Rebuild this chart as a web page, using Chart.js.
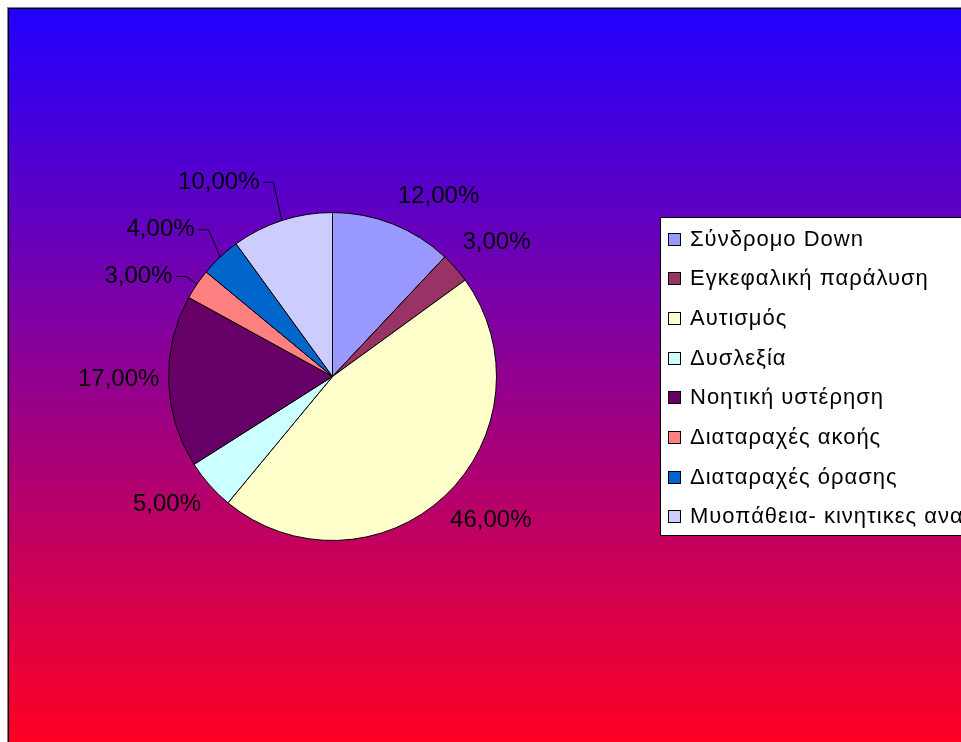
<!DOCTYPE html>
<html lang="el">
<head>
<meta charset="utf-8">
<title>Ειδικές μαθησιακές ανάγκες</title>
<style>
html, body { margin: 0; padding: 0; background: #fff; overflow: hidden; }
#pieChart { display: block; }
</style>
</head>
<body>
<canvas id="pieChart" width="961" height="742"></canvas>
<script src="https://cdn.jsdelivr.net/npm/chart.js@4.4.1/dist/chart.umd.min.js"></script>
<script>
// data
const categories = [
    'Σύνδρομο Down',
    'Εγκεφαλική παράλυση',
    'Αυτισμός',
    'Δυσλεξία',
    'Νοητική υστέρηση',
    'Διαταραχές ακοής',
    'Διαταραχές όρασης',
    'Μυοπάθεια- κινητικες αναπηρίες'
];
const percentValues = [12, 3, 46, 5, 17, 3, 4, 10];
const sliceColors = ['#9999FF', '#993366', '#FFFFCC', '#CCFFFF', '#660066', '#FF8080', '#0066CC', '#CCCCFF'];

// label tweaks: da = degrees clockwise, dr = px outward; leader = label pulled out with a line
const labelTweaks = [
    {da: 8.9, dr: 2},
    {da: 2.1, dr: 2},
    {da: -4.6, dr: -0.5},
    {da: 3.8, dr: -1.4},
    {da: 0.9, dr: -3},
    {da: 0.2, len: 13, leader: true},
    {da: 3.0, len: 28, leader: true},
    {da: 1.1, len: 39, leader: true}
];

const LABEL_FONT = '24px "Liberation Sans", Arial, sans-serif';
const LEGEND_FONT = '22px "Liberation Sans", Arial, sans-serif';

function formatPct(v){
    return v.toFixed(2).replace('.', ',') + '%';
}

const backgroundPlugin = {
    id: 'sheetBackground',
    beforeDraw(chart){
        const ctx = chart.ctx;
        const w = chart.width, h = chart.height;
        ctx.save();
        ctx.fillStyle = '#ffffff';
        ctx.fillRect(0, 0, w, h);
        const grad = ctx.createLinearGradient(0, 9, 0, h);
        grad.addColorStop(0, 'rgb(34, 0, 255)');
        grad.addColorStop(1, 'rgb(255, 0, 34)');
        ctx.fillStyle = grad;
        ctx.fillRect(9, 9, w, h);
        ctx.lineWidth = 1;
        ctx.strokeStyle = '#808080';
        ctx.strokeRect(7.5, 7.5, w + 10, h + 10);
        ctx.strokeStyle = '#000000';
        ctx.strokeRect(8.5, 8.5, w + 10, h + 10);
        ctx.restore();
    }
};

const pctLabelPlugin = {
    id: 'pctLabels',
    afterDatasetsDraw(chart){
        const ctx = chart.ctx;
        const meta = chart.getDatasetMeta(0);
        const values = chart.data.datasets[0].data;
        const gap = 12;
        ctx.save();
        ctx.font = LABEL_FONT;
        ctx.fillStyle = '#000';
        ctx.strokeStyle = '#000';
        ctx.lineWidth = 1;
        ctx.textBaseline = 'middle';
        meta.data.forEach((arc, i) => {
            const tw = labelTweaks[i] || {da: 0, dr: 0};
            const text = formatPct(values[i]);
            const r = arc.outerRadius;
            const mid = (arc.startAngle + arc.endAngle) / 2;
            const ang = mid + tw.da * Math.PI / 180;
            if (tw.leader){
                const px = arc.x + Math.cos(mid) * r;
                const py = arc.y + Math.sin(mid) * r;
                const ex = arc.x + Math.cos(ang) * (r + tw.len);
                const ey = arc.y + Math.sin(ang) * (r + tw.len);
                ctx.beginPath();
                ctx.moveTo(px, py);
                ctx.lineTo(ex, ey);
                ctx.lineTo(ex - 10, ey);
                ctx.stroke();
                ctx.textAlign = 'right';
                ctx.fillText(text, ex - 14, ey);
                return;
            }
            const hw = ctx.measureText(text).width / 2;
            const hh = 12;
            const d = r + gap + tw.dr + hw * Math.abs(Math.cos(ang)) + hh * Math.abs(Math.sin(ang));
            ctx.textAlign = 'center';
            ctx.fillText(text, arc.x + Math.cos(ang) * d, arc.y + Math.sin(ang) * d);
        });
        ctx.restore();
    }
};

const boxLegendPlugin = {
    id: 'boxLegend',
    afterDraw(chart){
        const ctx = chart.ctx;
        const ds = chart.data.datasets[0];
        const left = 660.5, top = 217.5, height = 318;
        const rowGap = 39.7;
        ctx.save();
        ctx.fillStyle = '#ffffff';
        ctx.fillRect(left, top, 400, height);
        ctx.strokeStyle = '#000';
        ctx.lineWidth = 1;
        ctx.strokeRect(left, top, 400, height);
        ctx.font = LEGEND_FONT;
        ctx.letterSpacing = '1px';
        ctx.textBaseline = 'middle';
        ctx.textAlign = 'left';
        chart.data.labels.forEach((label, i) => {
            const cy = top + 21 + i * rowGap;
            ctx.fillStyle = ds.backgroundColor[i];
            ctx.fillRect(668.5, Math.round(cy - 6) + 0.5, 12, 12);
            ctx.strokeRect(668.5, Math.round(cy - 6) + 0.5, 12, 12);
            ctx.fillStyle = '#000';
            ctx.fillText(label, 690, cy + 1);
        });
        ctx.restore();
    }
};

function setupChart(){
    const ctx = document.getElementById('pieChart').getContext('2d');
    const config = {
        type: 'pie',
        data: {
            labels: categories,
            datasets: [{
                data: percentValues,
                backgroundColor: sliceColors,
                borderColor: '#000000',
                borderWidth: 1
            }]
        },
        options: {
            responsive: false,
            animation: false,
            devicePixelRatio: 1,
            layout: {
                padding: {left: 168, right: 464, top: 212, bottom: 201}
            },
            plugins: {
                legend: {display: false},
                tooltip: {enabled: false}
            }
        },
        plugins: [backgroundPlugin, pctLabelPlugin, boxLegendPlugin]
    };
    window.pieChart = new Chart(ctx, config);
}

setupChart();
</script>
</body>
</html>
